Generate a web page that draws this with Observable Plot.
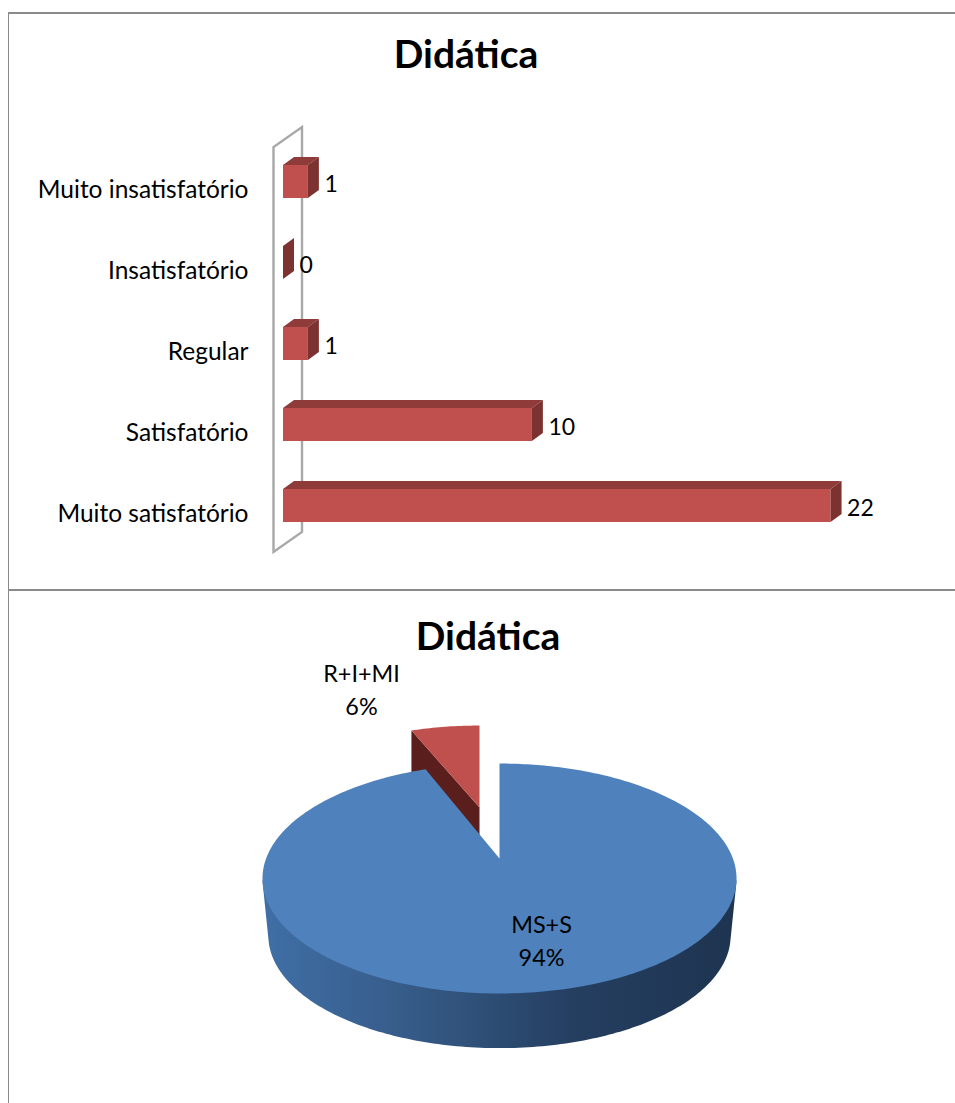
<!DOCTYPE html>
<html>
<head>
<meta charset="utf-8">
<script src="https://cdn.jsdelivr.net/npm/d3@7"></script>
<script src="https://cdn.jsdelivr.net/npm/@observablehq/plot@0.6"></script>
<style>
  html, body { margin: 0; padding: 0; background: #fff; }
  body { position: relative; width: 955px; height: 1103px; overflow: hidden; font-family: Lato, sans-serif; }
  #bars, #pie { position: absolute; left: 0; }
  #bars { top: 0; }
  #pie { top: 590px; }
  .rule { position: absolute; background: #8a8a8a; }
  svg { display: block; }
</style>
</head>
<body>
<div id="bars"></div>
<div id="pie"></div>
<div class="rule" style="left:8px;top:12px;width:947px;height:1.5px"></div>
<div class="rule" style="left:8px;top:588.5px;width:947px;height:2px"></div>
<div class="rule" style="left:7.5px;top:12px;width:1.5px;height:1091px"></div>
<script>
const chartTitle = "Didática";
const categories = ["Muito insatisfatório", "Insatisfatório", "Regular", "Satisfatório", "Muito satisfatório"];
const counts = [1, 0, 1, 10, 22];
const pieNames = ["MS+S", "R+I+MI"];
const piePercents = [94, 6];

const font = "Lato, sans-serif";
const axisSize = 24.5;
const valueSize = 23;
const pieLabelSize = 23.4;
const titleSize = 39;

/* ---------- bar chart ---------- */
const rows = categories.map((category, i) => ({category, value: counts[i]}));
const depth = {dx: 11, dy: -8};

function polygon(g, points, fill) {
  g.append("polygon").attr("points", points.map(p => p.join(",")).join(" ")).attr("fill", fill);
}

const wall = (index, {x, y}) => {
  const bw = y.bandwidth();
  const x0 = x(0);
  const top = y(categories[0]) - 18, bottom = y(categories[categories.length - 1]) + bw + 30;
  const g = d3.create("svg:g");
  const L = x0 - 9.5, R = x0 + 19, lift = 20;
  g.append("path")
    .attr("d", `M${L},${top}L${L},${bottom}L${R},${bottom - lift}L${R},${top - lift}Z`)
    .attr("fill", "#fff").attr("stroke", "#a8a8a8").attr("stroke-width", 2.4);
  return g.node();
};

const faces = (index, {x, y}) => {
  const g = d3.create("svg:g");
  const bw = y.bandwidth();
  for (const r of rows) {
    const a = x(0), b = x(r.value), t = y(r.category), u = t + bw;
    if (r.value > 0) {
      polygon(g, [[a, t], [b, t], [b + depth.dx, t + depth.dy], [a + depth.dx, t + depth.dy]], "#8e3b39");
    }
    polygon(g, [[b, t], [b + depth.dx, t + depth.dy], [b + depth.dx, u + depth.dy], [b, u]], "#7c3230");
  }
  return g.node();
};

const barPlot = Plot.plot({
  width: 955,
  height: 590,
  marginLeft: 283,
  marginRight: 0,
  marginTop: 0,
  marginBottom: 0,
  style: {background: "transparent", fontFamily: font, color: "#000"},
  x: {domain: [0, 27], axis: null},
  y: {domain: categories, range: [139.1, 547.9], paddingInner: 0.59, paddingOuter: 0.295, label: null},
  marks: [
    wall,
    Plot.barX(rows, {x: "value", y: "category", fill: "#c0504d"}),
    faces,
    Plot.axisY({anchor: "left", tickSize: 0, tickPadding: 35, dy: 8.5, fontSize: axisSize, label: null}),
    Plot.text(rows, {x: "value", y: "category", text: d => String(d.value), textAnchor: "start", dx: 16, dy: 2.5, fontSize: valueSize, fill: "#000"}),
    Plot.text([chartTitle], {frameAnchor: "top", dx: -153.5, dy: 55, lineAnchor: "middle", fontSize: titleSize, fontWeight: 700, fill: "#000"})
  ]
});
document.getElementById("bars").append(barPlot);

/* ---------- 3D pie ---------- */
const RX = 233.4, RY = 111.5, PERSP = 0.174;
const arcs = d3.pie().sort(null).startAngle(0).endAngle(2 * Math.PI)(piePercents);

function project(theta, scale = {}) {
  const {sx = 1, sy = 1, ox = 0, oy = 0} = scale;
  const u = Math.sin(theta), v = Math.cos(theta), w = 1 + PERSP * v;
  return {x: ox + sx * RX * u / w, y: oy + sy * RY * v / w, v};
}
function arcPoints(a0, a1, scale) {
  const n = Math.max(2, Math.ceil(Math.abs(a1 - a0) / (Math.PI / 180)));
  return d3.range(n + 1).map(i => project(a0 + (a1 - a0) * i / n, scale));
}

const blue = arcs[0], red = arcs[1];

// blue slice top
const blueTop = [{x: 0, y: 0}, ...arcPoints(blue.startAngle, blue.endAngle), {x: 0, y: 0}];

// blue slice rim: front of the top outline joined to the lower outline
const lower = {sx: 0.975, sy: 0.975, oy: -58};
const frontTop = arcPoints(0, 2 * Math.PI).filter(p => p.v <= -PERSP);
const frontLow = arcPoints(0, 2 * Math.PI, lower).filter(p => p.v <= -PERSP);
const hull = d3.polygonHull([...frontTop, ...frontLow].map(p => [p.x, p.y]));
const blueRim = [...hull, hull[0]].map(([x, y]) => ({x, y}));

// exploded red slice
const exploded = {sx: 0.92, sy: 0.863, ox: -20, oy: 51};
const redOuter = arcPoints(red.startAngle, red.endAngle, exploded);
const redApex = {x: exploded.ox, y: exploded.oy};
const redTop = [redApex, ...redOuter, redApex];
const thick = 45;
const redLeft = redOuter[0];
const redWall = [redApex, redLeft, {x: redLeft.x, y: redLeft.y - thick}, {x: redApex.x, y: redApex.y - thick}, redApex];

const rimGradient = () => {
  const defs = d3.create("svg:defs");
  const lg = defs.append("linearGradient").attr("id", "rim").attr("x1", 0).attr("x2", 1).attr("y1", 0).attr("y2", 0);
  [[0, "#3f6fa6"], [0.25, "#385f8e"], [0.45, "#2f5078"], [0.65, "#253f61"], [1, "#1e3450"]]
    .forEach(([o, c]) => lg.append("stop").attr("offset", o).attr("stop-color", c));
  return defs.node();
};

const CX = 499, CY = 268;
const piePlot = Plot.plot({
  width: 955,
  height: 513,
  margin: 0,
  style: {background: "transparent", fontFamily: font, color: "#000"},
  x: {domain: [-CX, 955 - CX], range: [0, 955], axis: null},
  y: {domain: [CY, CY - 513], range: [0, 513], axis: null},
  marks: [
    rimGradient,
    Plot.line(redWall, {x: "x", y: "y", fill: "#5a1f1d", stroke: "none"}),
    Plot.line(redTop, {x: "x", y: "y", fill: "#c0504d", stroke: "none"}),
    Plot.line(blueRim, {x: "x", y: "y", fill: "url(#rim)", stroke: "none"}),
    Plot.line(blueTop, {x: "x", y: "y", fill: "#4f81bd", stroke: "none"}),
    Plot.text([`${pieNames[1]}\n${piePercents[1]}%`], {frameAnchor: "top-left", dx: 361, dy: 68, lineAnchor: "top", textAnchor: "middle", lineHeight: 1.41, fontSize: pieLabelSize, fill: "#000"}),
    Plot.text([`${pieNames[0]}\n${piePercents[0]}%`], {frameAnchor: "top-left", dx: 541, dy: 319, lineAnchor: "top", textAnchor: "middle", lineHeight: 1.41, fontSize: pieLabelSize, fill: "#000"}),
    Plot.text([chartTitle], {frameAnchor: "top", dx: 10, dy: 47, lineAnchor: "middle", fontSize: titleSize, fontWeight: 700, fill: "#000"})
  ]
});
document.getElementById("pie").append(piePlot);
</script>
</body>
</html>
